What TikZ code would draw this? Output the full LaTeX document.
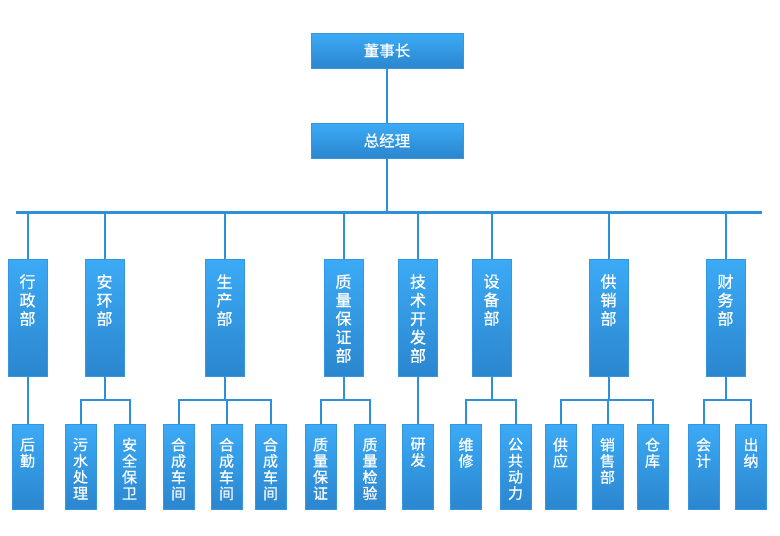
\documentclass[tikz,border=0pt]{standalone}
\usepackage{fontspec}
\setmainfont{Noto Sans CJK SC}[FakeBold=0.8]
\definecolor{ctop}{HTML}{3CAAF6}
\definecolor{cbot}{HTML}{2B86CE}
\definecolor{cedge}{HTML}{3497DF}
\definecolor{lc}{HTML}{2F90DA}
\newcommand\Lone[1]{\fontsize{15.5}{18}\selectfont #1}
\newcommand\Ltwo[1]{\parbox[c][117pt][t]{39pt}{\centering\fontsize{16}{18.5}\selectfont\vspace*{15pt}#1}}
\newcommand\Lthree[1]{\parbox[c][85pt][t]{31pt}{\centering\fontsize{15}{16.2}\selectfont\vspace*{13.5pt}#1}}
\tikzset{
  bx/.style={inner sep=0pt, top color=ctop, bottom color=cbot, draw=cedge, line width=0.6pt, text=white, anchor=north},
  topbox/.style={bx, minimum width=152pt, minimum height=35pt, anchor=center},
  ln/.style={draw=lc, line width=2pt},
  barln/.style={draw=lc, line width=3pt},
}
\begin{document}
\begin{tikzpicture}[x=1pt,y=-1pt]
\fill[white] (0,0) rectangle (780,536);
\useasboundingbox (0,0) rectangle (780,536);
% top level
\node[topbox] (dsz) at (387,50.5) {\Lone{董事长}};
\node[topbox] (zjl) at (387,140.5) {\Lone{总经理}};
\coordinate (barL) at (16,212);
\coordinate (barR) at (762,212);
% level 2
\node[bx] (xz) at (27.5,259) {\Ltwo{行\\政\\部}};
\node[bx] (ah) at (104.5,259) {\Ltwo{安\\环\\部}};
\node[bx] (sc) at (224.5,259) {\Ltwo{生\\产\\部}};
\node[bx] (zl) at (343.5,259) {\Ltwo{质\\量\\保\\证\\部}};
\node[bx] (js) at (418,259) {\Ltwo{技\\术\\开\\发\\部}};
\node[bx] (sb) at (491.5,259) {\Ltwo{设\\备\\部}};
\node[bx] (gx) at (608.5,259) {\Ltwo{供\\销\\部}};
\node[bx] (cw) at (725.5,259) {\Ltwo{财\\务\\部}};
% level 3
\node[bx] (hq) at (27.5,424) {\Lthree{后\\勤}};
\node[bx] (ws) at (80.5,424) {\Lthree{污\\水\\处\\理}};
\node[bx] (aq) at (129.5,424) {\Lthree{安\\全\\保\\卫}};
\node[bx] (hc1) at (178.5,424) {\Lthree{合\\成\\车\\间}};
\node[bx] (hc2) at (226.5,424) {\Lthree{合\\成\\车\\间}};
\node[bx] (hc3) at (270.5,424) {\Lthree{合\\成\\车\\间}};
\node[bx] (zb) at (320.5,424) {\Lthree{质\\量\\保\\证}};
\node[bx] (zj) at (370,424) {\Lthree{质\\量\\检\\验}};
\node[bx] (yf) at (418,424) {\Lthree{研\\发}};
\node[bx] (wx) at (466,424) {\Lthree{维\\修}};
\node[bx] (gg) at (515.5,424) {\Lthree{公\\共\\动\\力}};
\node[bx] (gy) at (560.5,424) {\Lthree{供\\应}};
\node[bx] (xs) at (607.5,424) {\Lthree{销\\售\\部}};
\node[bx] (ck) at (652.5,424) {\Lthree{仓\\库}};
\node[bx] (kj) at (703.5,424) {\Lthree{会\\计}};
\node[bx] (cn) at (751,424) {\Lthree{出\\纳}};
% connectors
\draw[ln] (dsz.south) -- (zjl.north);
\draw[ln] (zjl.south) -- (zjl.south |- barL);
\draw[barln] (barL) -- (barR);
\foreach \n in {xz,ah,sc,zl,js,sb,gx,cw}
  \draw[ln] (\n.north) -- (\n.north |- barL);
\draw[ln] (xz.south) -- (hq.north);
\draw[ln] (js.south) -- (yf.north);
\foreach \p/\c in {ah/ws,ah/aq,sc/hc1,sc/hc2,sc/hc3,zl/zb,zl/zj,sb/wx,sb/gg,gx/gy,gx/xs,gx/ck,cw/kj,cw/cn}
  \draw[ln] (\p.south) -- ++(0,23.5) -| (\c.north);
\end{tikzpicture}
\end{document}
